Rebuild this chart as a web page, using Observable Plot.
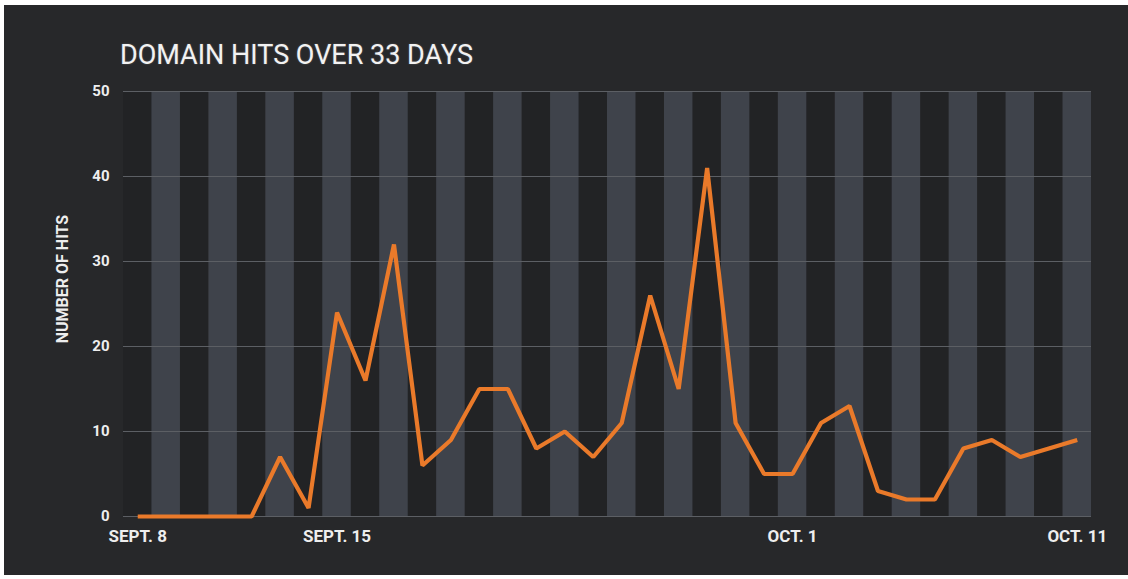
<!DOCTYPE html>
<html>
<head>
<meta charset="utf-8">
<script src="https://cdn.jsdelivr.net/npm/d3@7"></script>
<script src="https://cdn.jsdelivr.net/npm/@observablehq/plot@0.6"></script>
<style>
  html, body { margin: 0; padding: 0; background: #ffffff; }
  #frame { position: absolute; left: 4px; top: 5px; width: 1124px; height: 570px; background: #27282a; overflow: hidden; }
  #title { position: absolute; left: 116px; top: 37px; font-family: Roboto, sans-serif; font-size: 27px; line-height: 27px; color: #f2f2f2; font-weight: 400; text-shadow: 0 0 2px rgba(255,255,255,0.25); white-space: nowrap; }
  #chart { position: absolute; left: 0; top: 70px; }
</style>
</head>
<body>
<div id="frame">
  <div id="title">DOMAIN HITS OVER 33 DAYS</div>
  <div id="chart"></div>
</div>
<script>
const dates = [
  "2015-09-08","2015-09-09","2015-09-10","2015-09-11","2015-09-12","2015-09-13","2015-09-14",
  "2015-09-15","2015-09-16","2015-09-17","2015-09-18","2015-09-19","2015-09-20","2015-09-21",
  "2015-09-22","2015-09-23","2015-09-24","2015-09-25","2015-09-26","2015-09-27","2015-09-28",
  "2015-09-29","2015-09-30","2015-10-01","2015-10-02","2015-10-03","2015-10-04","2015-10-05",
  "2015-10-06","2015-10-07","2015-10-08","2015-10-09","2015-10-10","2015-10-11"
];
const hits = [
  0, 0, 0, 0, 0, 7, 1,
  24, 16, 32, 6, 9, 15, 15,
  8, 10, 7, 11, 26, 15, 41,
  11, 5, 5, 11, 13, 3, 2,
  2, 8, 9, 7, 8, 9
];
const tickDates = ["2015-09-08", "2015-09-15", "2015-10-01", "2015-10-11"];
const tickLabels = ["SEPT. 8", "SEPT. 15", "OCT. 1", "OCT. 11"];
const yTicks = [0, 10, 20, 30, 40, 50];
const gridValues = [10, 20, 30, 40, 50];
const yLabel = "NUMBER OF HITS";

const HALF_DAY = 12 * 3600 * 1000;
const parse = s => new Date(s + "T00:00:00Z");
const data = dates.map((d, i) => ({date: parse(d), hits: hits[i], idx: i}));
const bands = data.map(d => ({x1: new Date(+d.date - HALF_DAY), x2: new Date(+d.date + HALF_DAY), odd: d.idx % 2 === 1}));
const labelMap = new Map(tickDates.map((d, i) => [+parse(d), tickLabels[i]]));

const chart = Plot.plot({
  width: 1124,
  height: 490,
  marginTop: 16,
  marginBottom: 49,
  marginLeft: 119,
  marginRight: 37,
  style: {background: "transparent", color: "#eeeeee", fontFamily: "Roboto, sans-serif"},
  x: {type: "utc", domain: [new Date(+data[0].date - HALF_DAY), new Date(+data[data.length - 1].date + HALF_DAY)]},
  y: {domain: [0, 50]},
  marks: [
    Plot.rect(bands.filter(b => !b.odd), {x1: "x1", x2: "x2", fill: "#222325"}),
    Plot.rect(bands.filter(b => b.odd), {x1: "x1", x2: "x2", fill: "#3f434b"}),
    Plot.ruleY([0, ...gridValues], {stroke: "#5c5f64", strokeWidth: 1.2}),
    Plot.axisY({ticks: yTicks, tickSize: 0, tickPadding: 14, label: null, fontSize: 15, fontWeight: "bold", fill: "#eeeeee"}),
    Plot.axisX({ticks: tickDates.map(parse), tickFormat: d => labelMap.get(+d), tickSize: 0, tickPadding: 13, label: null, fontSize: 17, fontWeight: "bold", fill: "#eeeeee"}),
    Plot.text([yLabel], {text: d => d, frameAnchor: "left", textAnchor: "middle", rotate: -90, dx: -61, dy: -25, fontSize: 16, fontWeight: "bold", fill: "#eeeeee"}),
    Plot.line(data, {x: "date", y: "hits", stroke: "#ea7a2a", strokeWidth: 4.2, strokeLinejoin: "miter", strokeLinecap: "butt"})
  ]
});
document.getElementById("chart").appendChild(chart);
</script>
</body>
</html>
